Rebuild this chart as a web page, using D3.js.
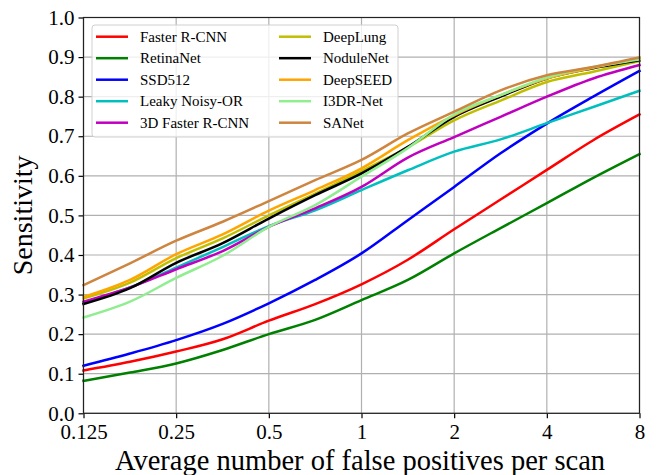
<!DOCTYPE html>
<html>
<head>
<meta charset="utf-8">
<script src="https://cdn.jsdelivr.net/npm/d3@7"></script>
<style>
  html, body { margin: 0; padding: 0; background: #fff; }
  svg { display: block; font-family: "Liberation Serif", "Times New Roman", serif; }
</style>
</head>
<body>
<svg id="chart"></svg>
<script>
// false positives per scan (half-octave steps)
const fps = [0.125, 0.177, 0.25, 0.354, 0.5, 0.707, 1, 1.414, 2, 2.83, 4, 5.66, 8];
const xTicks = [0.125, 0.25, 0.5, 1, 2, 4, 8];
const xTickLabels = ["0.125", "0.25", "0.5", "1", "2", "4", "8"];
const yTicks = [0, 0.1, 0.2, 0.3, 0.4, 0.5, 0.6, 0.7, 0.8, 0.9, 1.0];

const methods = ["Faster R-CNN", "RetinaNet", "SSD512", "Leaky Noisy-OR", "3D Faster R-CNN",
                 "DeepLung", "NoduleNet", "DeepSEED", "I3DR-Net", "SANet"];
const colors = ["#ff0000", "#008000", "#0000ff", "#00bfbf", "#bf00bf",
                "#bfbf00", "#000000", "#ffa500", "#90ee90", "#cd853f"];

const fasterRcnn = [0.108, 0.130, 0.156, 0.187, 0.234, 0.276, 0.326, 0.388, 0.465, 0.540, 0.615, 0.690, 0.755];
const retinaNet  = [0.082, 0.103, 0.126, 0.160, 0.200, 0.236, 0.286, 0.337, 0.404, 0.468, 0.531, 0.595, 0.655];
const ssd512     = [0.120, 0.151, 0.185, 0.226, 0.278, 0.337, 0.404, 0.488, 0.572, 0.657, 0.732, 0.800, 0.865];
const leakyNoisy = [0.280, 0.318, 0.368, 0.420, 0.473, 0.513, 0.564, 0.614, 0.661, 0.692, 0.733, 0.774, 0.815];
const faster3d   = [0.282, 0.318, 0.364, 0.410, 0.471, 0.518, 0.572, 0.646, 0.698, 0.749, 0.800, 0.846, 0.880];
const deepLung   = [0.290, 0.330, 0.392, 0.442, 0.500, 0.555, 0.612, 0.672, 0.740, 0.790, 0.837, 0.863, 0.890];
const noduleNet  = [0.276, 0.316, 0.380, 0.430, 0.492, 0.551, 0.606, 0.673, 0.749, 0.800, 0.846, 0.872, 0.892];
const deepSeed   = [0.294, 0.337, 0.402, 0.452, 0.512, 0.564, 0.619, 0.690, 0.753, 0.804, 0.846, 0.873, 0.897];
const i3drNet    = [0.242, 0.282, 0.342, 0.398, 0.471, 0.526, 0.598, 0.670, 0.755, 0.804, 0.848, 0.875, 0.894];
const saNet      = [0.324, 0.379, 0.436, 0.484, 0.536, 0.589, 0.640, 0.707, 0.762, 0.816, 0.854, 0.875, 0.899];

const series = [fasterRcnn, retinaNet, ssd512, leakyNoisy, faster3d,
                deepLung, noduleNet, deepSeed, i3drNet, saNet];

const width = 659, height = 475;
const marginLeft = 83.5, marginRight = 19.5, marginTop = 17.5, marginBottom = 61.7;

const svg = d3.select("#chart")
    .attr("width", width)
    .attr("height", height)
    .attr("viewBox", [0, 0, width, height]);

const x = d3.scaleLog().base(2).domain([0.125, 8]).range([marginLeft, width - marginRight]);
const y = d3.scaleLinear().domain([0, 1]).range([height - marginBottom, marginTop]);

// grid
svg.append("g")
    .attr("stroke", "#b0b0b0")
    .attr("stroke-width", 1.2)
  .call(g => g.selectAll(".gx").data(xTicks).join("line")
      .attr("x1", d => x(d)).attr("x2", d => x(d))
      .attr("y1", y(0)).attr("y2", y(1)))
  .call(g => g.selectAll(".gy").data(yTicks).join("line")
      .attr("x1", x(0.125)).attr("x2", x(8))
      .attr("y1", d => y(d)).attr("y2", d => y(d)));

// curves
const line = d3.line()
    .curve(d3.curveMonotoneX)
    .x((d, i) => x(fps[i]))
    .y(d => y(d));

svg.append("g")
    .attr("fill", "none")
    .attr("stroke-width", 2.5)
    .attr("stroke-linejoin", "round")
    .attr("stroke-linecap", "square")
  .selectAll("path")
  .data(series)
  .join("path")
    .attr("stroke", (d, i) => colors[i])
    .attr("d", d => line(d));

// axes
const xAxis = d3.axisBottom(x)
    .tickValues(xTicks)
    .tickFormat((d, i) => xTickLabels[i])
    .tickSizeOuter(0)
    .tickSize(5)
    .tickPadding(6);
const yAxis = d3.axisLeft(y)
    .tickValues(yTicks)
    .tickFormat(d3.format(".1f"))
    .tickSizeOuter(0)
    .tickSize(5)
    .tickPadding(4);

svg.append("g")
    .attr("transform", `translate(0,${y(0)})`)
    .call(xAxis)
    .call(g => g.select(".domain").remove())
    .call(g => g.selectAll(".tick line").attr("stroke", "#000").attr("stroke-width", 1.2))
    .call(g => g.selectAll(".tick text")
        .attr("fill", "#000")
        .attr("font-family", "Liberation Serif")
        .attr("font-size", 21));

svg.append("g")
    .attr("transform", `translate(${x(0.125)},0)`)
    .call(yAxis)
    .call(g => g.select(".domain").remove())
    .call(g => g.selectAll(".tick line").attr("stroke", "#000").attr("stroke-width", 1.2))
    .call(g => g.selectAll(".tick text")
        .attr("fill", "#000")
        .attr("font-family", "Liberation Serif")
        .attr("font-size", 21));

// frame
svg.append("rect")
    .attr("x", x(0.125)).attr("y", y(1))
    .attr("width", x(8) - x(0.125)).attr("height", y(0) - y(1))
    .attr("fill", "none")
    .attr("stroke", "#222")
    .attr("stroke-width", 1.2);

// axis titles
svg.append("text")
    .attr("x", 360)
    .attr("y", 470)
    .attr("text-anchor", "middle")
    .attr("font-size", 28.5)
    .text("Average number of false positives per scan");

svg.append("text")
    .attr("transform", `translate(32,${(y(0) + y(1)) / 2}) rotate(-90)`)
    .attr("text-anchor", "middle")
    .attr("font-size", 28)
    .text("Sensitivity");

// legend
const legend = svg.append("g");
legend.append("rect")
    .attr("x", 92).attr("y", 25)
    .attr("width", 306).attr("height", 112)
    .attr("rx", 3)
    .attr("fill", "#fff")
    .attr("fill-opacity", 0.8)
    .attr("stroke", "#d0d0d0");

const item = legend.selectAll("g.item")
  .data(methods)
  .join("g")
    .attr("transform", (d, i) => `translate(${i < 5 ? 96 : 279},${36.7 + (i % 5) * 21.5})`);
item.append("line")
    .attr("x1", 0).attr("x2", 32)
    .attr("stroke", (d, i) => colors[i])
    .attr("stroke-width", 2.5);
item.append("text")
    .attr("x", 44)
    .attr("dy", "0.35em")
    .attr("font-size", 15)
    .text(d => d);
</script>
</body>
</html>
